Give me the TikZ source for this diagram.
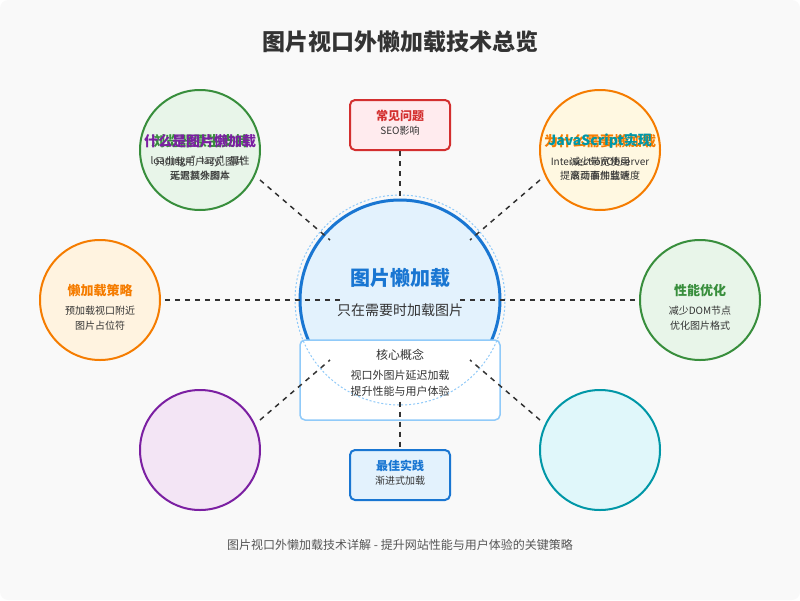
\documentclass[tikz,border=0pt]{standalone}
\usepackage{fontspec}
\setmainfont{Noto Sans CJK SC}
\definecolor{bg}{HTML}{F9F9F9}
\definecolor{ink}{HTML}{333333}
\definecolor{sub}{HTML}{555555}
\definecolor{hubblue}{HTML}{1976D2}
\definecolor{hubfill}{HTML}{E3F2FD}
\definecolor{ring}{HTML}{90CAF9}
\definecolor{grn}{HTML}{388E3C}
\definecolor{grnfill}{HTML}{E8F5E9}
\definecolor{org}{HTML}{F57C00}
\definecolor{orgfill}{HTML}{FFF3E0}
\definecolor{ambfill}{HTML}{FFF8E1}
\definecolor{pur}{HTML}{7B1FA2}
\definecolor{purfill}{HTML}{F3E5F5}
\definecolor{cyn}{HTML}{0097A7}
\definecolor{cynfill}{HTML}{E0F7FA}
\definecolor{alert}{HTML}{D32F2F}
\definecolor{alertfill}{HTML}{FFEBEE}
\newcommand{\fsz}[1]{\fontsize{#1}{#1}\selectfont}
\tikzset{
  sat/.style={circle,minimum size=120pt,inner sep=0pt,line width=2pt},
  ttl/.style={inner sep=0pt,font=\fsz{13}\bfseries},
  topttl/.style={ttl,font=\fsz{14}\bfseries},
  txt/.style={inner sep=0pt,font=\fsz{10},text=ink},
  tag/.style={draw,rounded corners=5pt,line width=2pt,minimum width=100pt,minimum height=50pt},
  link/.style={draw=ink,line width=1.5pt,dash pattern=on 5pt off 5pt},
}

\begin{document}
\begin{tikzpicture}[x=1pt,y=-1pt]
\fill[bg,rounded corners=8pt] (0,0) rectangle (800,600);
\node[inner sep=0pt,font=\fsz{23}\bfseries,text=ink] (title) at (400,42) {图片视口外懒加载技术总览};

% centre
\node[circle,minimum size=200pt,inner sep=0pt,fill=hubfill,draw=hubblue,line width=3pt] (hub) at (400,300) {};
\node[inner sep=0pt,font=\fsz{20}\bfseries,text=hubblue] (hubttl) at (400,278) {图片懒加载};
\node[inner sep=0pt,font=\fsz{14},text=ink] (hubtxt) at (400,310) {只在需要时加载图片};
\node[draw=ring,fill=white,rounded corners=5pt,line width=1.5pt,minimum width=200pt,minimum height=80pt] (core) at (400,380) {};
\draw[ring,line width=1pt,dash pattern=on 2pt off 2pt] (hub.center) circle[radius=105pt];
\node[inner sep=0pt,font=\fsz{12},text=ink] (corettl) at (400,355) {核心概念};
\node[txt,font=\fsz{11}] (core1) at (400,375) {视口外图片延迟加载};
\node[txt,font=\fsz{11}] (core2) at (400,391) {提升性能与用户体验};

% boxes
\node[tag,draw=alert,fill=alertfill] (issue) at (400,125) {};
\node[ttl,font=\fsz{12}\bfseries,text=alert] (issuettl) at (400,116) {常见问题};
\node[txt] (issuetxt) at (400,131) {SEO影响};
\node[tag,draw=hubblue,fill=hubfill] (practice) at (400,475) {};
\node[ttl,font=\fsz{12}\bfseries,text=hubblue] (practicettl) at (400,466) {最佳实践};
\node[txt] (practicetxt) at (400,481) {渐进式加载};

% satellites
\node[sat,draw=grn,fill=grnfill] (browser) at (200,150) {};
\node[sat,draw=org,fill=ambfill] (reason) at (600,150) {};
\node[sat,draw=org,fill=orgfill] (strat) at (100,300) {};
\node[sat,draw=grn,fill=grnfill] (perf) at (700,300) {};
\node[sat,draw=pur,fill=purfill] (basics) at (200,450) {};
\node[sat,draw=cyn,fill=cynfill] (script) at (600,450) {};

\node[topttl,text=grn] (browserttl) at (200,141) {浏览器原生支持};
\node[txt] (browser1) at (200,162) {loading="lazy"属性};
\node[txt] (browser2) at (200,176) {无需额外脚本};
\node[topttl,text=pur] (basicsttl) at (200,141) {什么是图片懒加载};
\node[txt] (basics1) at (200,162) {只加载用户可见图片};
\node[txt] (basics2) at (200,176) {延迟其余图片};

\node[topttl,text=org] (reasonttl) at (600,141) {为什么需要懒加载};
\node[txt] (reason1) at (600,162) {减少带宽使用};
\node[txt] (reason2) at (600,176) {提高页面加载速度};
\node[topttl,text=cyn] (scriptttl) at (600,141) {JavaScript实现};
\node[txt] (script1) at (600,162) {IntersectionObserver};
\node[txt] (script2) at (600,176) {滚动事件监听};

\node[ttl,text=org] (stratttl) at (100,291) {懒加载策略};
\node[txt] (strat1) at (100,311) {预加载视口附近};
\node[txt] (strat2) at (100,326) {图片占位符};
\node[ttl,text=grn] (perfttl) at (700,291) {性能优化};
\node[txt] (perf1) at (700,311) {减少DOM节点};
\node[txt] (perf2) at (700,326) {优化图片格式};

% links
\draw[link] (issue.south) -- (hub.north);
\draw[link] (hub.south) -- (practice.north);
\draw[link] ([xshift=4pt]strat.east) -- ([xshift=-60pt]hub.center);
\draw[link] ([xshift=60pt]hub.center) -- ([xshift=-4pt]perf.west);
\draw[link] ([shift={(60,30)}]browser.center) -- ([shift={(-70,-60)}]hub.center);
\draw[link] ([shift={(-60,30)}]reason.center) -- ([shift={(70,-60)}]hub.center);
\draw[link] ([shift={(60,-30)}]basics.center) -- ([shift={(-70,60)}]hub.center);
\draw[link] ([shift={(-60,-30)}]script.center) -- ([shift={(70,60)}]hub.center);

\node[inner sep=0pt,font=\fsz{12},text=sub] (footer) at (400,545) {图片视口外懒加载技术详解 - 提升网站性能与用户体验的关键策略};
\end{tikzpicture}
\end{document}
